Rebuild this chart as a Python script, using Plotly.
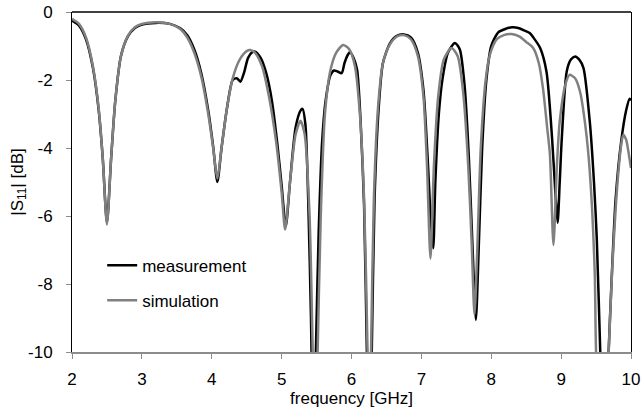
import plotly.graph_objects as go

# ---- data ----
freq_meas = [2.00, 2.10, 2.20, 2.30, 2.38, 2.44, 2.50, 2.56, 2.62, 2.70, 2.80, 2.90, 3.00, 3.20, 3.40,
             3.55, 3.65, 3.75, 3.85, 3.95, 4.02, 4.08, 4.14, 4.22, 4.30, 4.36, 4.41, 4.46, 4.52, 4.58,
             4.62, 4.70, 4.78, 4.86, 4.94, 5.00, 5.06, 5.12, 5.20, 5.27, 5.30, 5.34, 5.38, 5.42, 5.455,
             5.49, 5.53, 5.58, 5.63, 5.70, 5.75, 5.80, 5.86, 5.90, 5.95, 5.98, 6.03, 6.08, 6.13, 6.18,
             6.22, 6.255, 6.29, 6.33, 6.39, 6.45, 6.55, 6.65, 6.75, 6.85, 6.95, 7.03, 7.09, 7.14, 7.17,
             7.20, 7.25, 7.30, 7.38, 7.48, 7.55, 7.62, 7.68, 7.73, 7.78, 7.82, 7.87, 7.93, 8.00, 8.10,
             8.20, 8.30, 8.40, 8.48, 8.55, 8.62, 8.70, 8.79, 8.87, 8.92, 8.95, 8.98, 9.01, 9.08, 9.14,
             9.20, 9.26, 9.32, 9.41, 9.47, 9.51, 9.56, 9.62, 9.68, 9.72, 9.78, 9.86, 9.93, 9.98, 10.00]
s11_meas = [-0.25, -0.40, -0.80, -1.65, -2.85, -4.30, -6.20, -4.30, -2.60, -1.30, -0.72, -0.47, -0.37, -0.32, -0.35,
            -0.48, -0.68, -1.10, -1.80, -2.90, -3.95, -5.00, -4.00, -2.80, -2.00, -1.95, -2.05, -1.80, -1.35, -1.18,
            -1.17, -1.35, -1.80, -2.60, -3.90, -5.10, -6.30, -5.00, -3.40, -2.90, -2.85, -3.30, -5.50, -9.00, -13.0,
            -10.0, -6.50, -3.80, -2.60, -1.85, -1.72, -1.75, -1.80, -1.50, -1.25, -1.18, -1.35, -1.70, -3.20, -5.70,
            -10.0, -13.0, -10.0, -5.50, -2.80, -1.50, -0.92, -0.70, -0.66, -0.75, -1.20, -2.30, -4.30, -6.30, -6.95,
            -5.00, -3.00, -2.00, -1.20, -0.91, -1.10, -2.20, -4.30, -6.80, -9.05, -7.00, -4.00, -2.00, -1.00, -0.60,
            -0.50, -0.45, -0.48, -0.55, -0.62, -0.80, -1.06, -1.75, -3.70, -5.40, -6.20, -5.00, -3.70, -1.75, -1.40,
            -1.31, -1.40, -1.65, -3.22, -5.00, -6.65, -10.0, -14.0, -10.0, -8.00, -5.50, -3.80, -2.90, -2.55, -2.60]

freq_sim = [2.00, 2.10, 2.20, 2.30, 2.38, 2.44, 2.50, 2.56, 2.62, 2.70, 2.80, 2.90, 3.00, 3.20, 3.40,
            3.55, 3.65, 3.75, 3.85, 3.95, 4.02, 4.08, 4.14, 4.22, 4.30, 4.40, 4.50, 4.55, 4.62, 4.72,
            4.82, 4.92, 5.00, 5.05, 5.12, 5.20, 5.27, 5.33, 5.40, 5.45, 5.48, 5.51, 5.56, 5.62, 5.70,
            5.78, 5.88, 5.97, 6.05, 6.12, 6.18, 6.23, 6.255, 6.28, 6.32, 6.38, 6.45, 6.55, 6.65, 6.75,
            6.85, 6.95, 7.03, 7.08, 7.13, 7.18, 7.24, 7.32, 7.43, 7.52, 7.60, 7.67, 7.72, 7.76, 7.80,
            7.85, 7.92, 7.98, 8.08, 8.18, 8.29, 8.40, 8.50, 8.60, 8.68, 8.74, 8.80, 8.84, 8.89, 8.94,
            8.98, 9.06, 9.12, 9.20, 9.27, 9.35, 9.41, 9.48, 9.50, 9.59, 9.68, 9.73, 9.78, 9.82, 9.86,
            9.89, 9.93, 9.97, 10.00]
s11_sim = [-0.20, -0.35, -0.75, -1.60, -2.80, -4.30, -6.25, -4.30, -2.60, -1.30, -0.70, -0.45, -0.35, -0.30, -0.35,
           -0.50, -0.75, -1.20, -1.90, -3.00, -4.00, -4.90, -4.00, -2.80, -1.95, -1.40, -1.15, -1.12, -1.20, -1.60,
           -2.50, -3.80, -5.30, -6.40, -5.00, -3.60, -3.20, -3.60, -6.00, -10.5, -13.0, -10.5, -6.00, -3.00, -1.70,
           -1.20, -0.97, -1.10, -1.60, -3.00, -5.50, -10.0, -13.0, -10.0, -5.50, -2.80, -1.50, -0.95, -0.72, -0.68,
           -0.80, -1.30, -2.50, -4.50, -7.25, -4.50, -2.50, -1.40, -1.06, -1.30, -2.40, -4.50, -6.80, -8.90, -7.00,
           -4.00, -2.00, -1.26, -0.80, -0.68, -0.65, -0.72, -0.88, -1.06, -1.50, -2.24, -3.40, -4.20, -6.85, -4.50,
           -3.22, -2.14, -1.85, -1.95, -2.34, -3.40, -4.69, -7.60, -10.0, -14.0, -10.0, -7.60, -5.80, -4.69, -3.90,
           -3.61, -3.75, -4.20, -4.59]

x_ticks = [2, 3, 4, 5, 6, 7, 8, 9, 10]
x_tick_labels = ["2", "3", "4", "5", "6", "7", "8", "9", "10"]
y_ticks = [0, -2, -4, -6, -8, -10]
y_tick_labels = ["0", "-2", "-4", "-6", "-8", "-10"]

FONT = "Liberation Sans, Arial, sans-serif"
FS = 17

fig = go.Figure()
fig.add_trace(go.Scatter(
    x=freq_meas, y=s11_meas, mode="lines", name="measurement", legendgroup="m",
    line=dict(color="#000000", width=2.5, shape="spline", smoothing=0.7),
))
fig.add_trace(go.Scatter(
    x=freq_sim, y=s11_sim, mode="lines", name="simulation", legendgroup="s",
    line=dict(color="#808080", width=2.5, shape="spline", smoothing=0.7),
))

fig.update_layout(
    width=644, height=418,
    margin=dict(l=72, r=13, t=12, b=66, autoexpand=False),
    paper_bgcolor="white", plot_bgcolor="white",
    font=dict(family=FONT, size=FS, color="black"),
    showlegend=True,
    legend=dict(
        x=0.054, y=0.307, xanchor="left", yanchor="top",
        bgcolor="rgba(0,0,0,0)", borderwidth=0,
        font=dict(family=FONT, size=FS, color="black"),
        traceorder="grouped", tracegroupgap=10,
        itemwidth=30,
    ),
    xaxis=dict(
        range=[2, 10], tickvals=x_ticks, ticktext=x_tick_labels,
        showgrid=False, zeroline=False, automargin=False,
        showline=True, linecolor="#8c8c8c", linewidth=1.5,
        ticks="outside", ticklen=5, tickcolor="#8c8c8c", tickwidth=1,
        ticklabelstandoff=6,
        tickfont=dict(family=FONT, size=FS),
        title=dict(text="frequency [GHz]", standoff=2, font=dict(family=FONT, size=FS)),
    ),
    yaxis=dict(
        range=[-10, 0], tickvals=y_ticks, ticktext=y_tick_labels,
        showgrid=False, zeroline=False, automargin=False,
        showline=True, linecolor="black", linewidth=1, mirror=True,
        ticks="outside", ticklen=5, tickcolor="#8c8c8c", tickwidth=1,
        ticklabelstandoff=10,
        tickfont=dict(family=FONT, size=FS),
        title=dict(text="|S<sub>11</sub>| [dB]", standoff=0, font=dict(family=FONT, size=FS)),
    ),
)
# top border of the plot area (black, like the reference frame)
fig.add_shape(type="line", xref="paper", yref="paper", x0=0, x1=1, y0=1, y1=1,
              line=dict(color="black", width=1.5))

# remove the browser's default 8px page margin so the figure fills the window exactly
fig.write_html("out.html",
               config={"displayModeBar": False},
               post_script="document.body.style.margin='0';document.body.style.overflow='hidden';")
